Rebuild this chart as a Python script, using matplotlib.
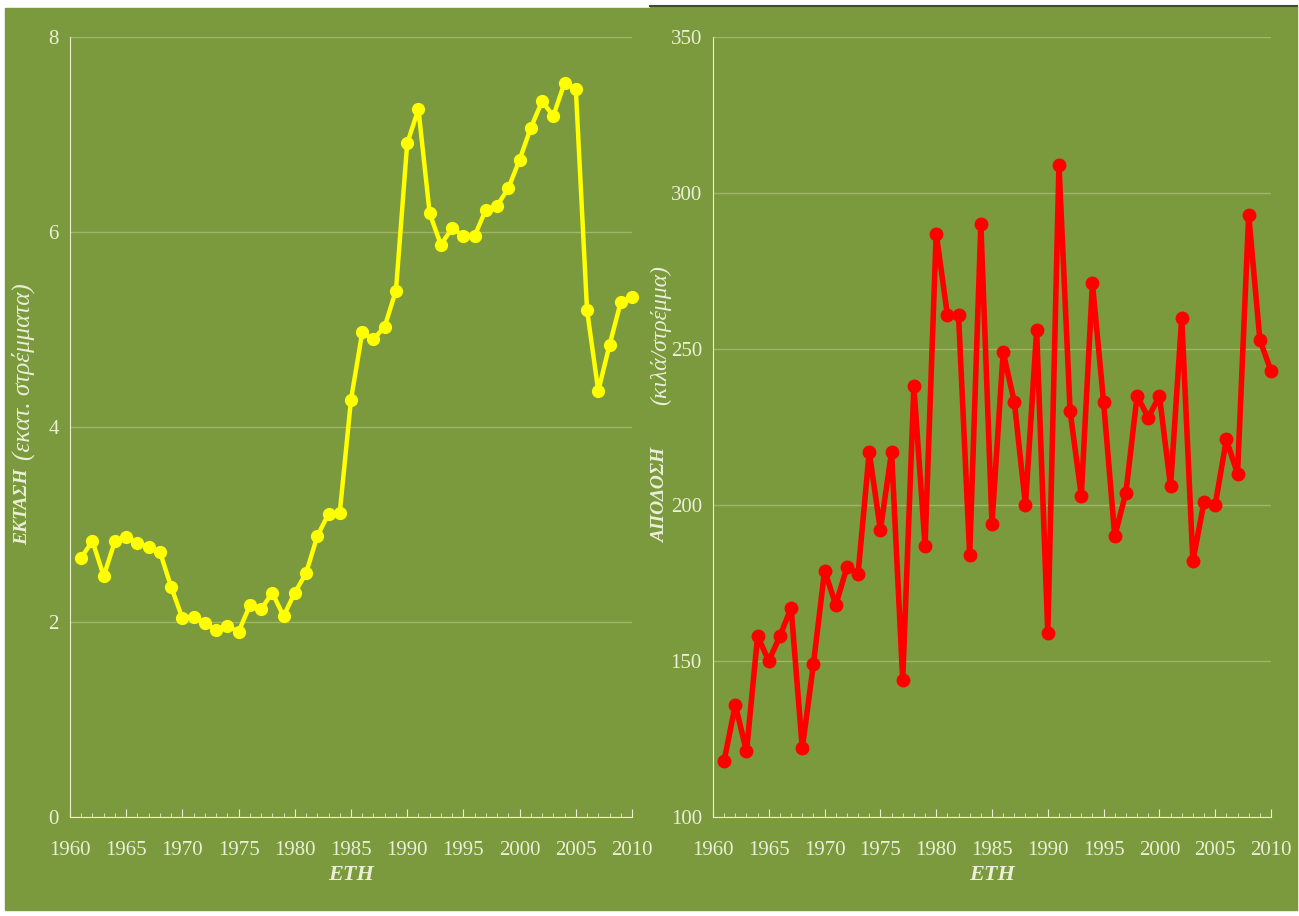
import matplotlib
matplotlib.use("Agg")
import matplotlib.pyplot as plt
from matplotlib.patches import Rectangle
from matplotlib.ticker import MultipleLocator

# data
years = list(range(1961, 2011))

ektasi = [2.66, 2.83, 2.47, 2.83, 2.87, 2.81, 2.77, 2.72, 2.36, 2.04,
          2.05, 1.99, 1.92, 1.96, 1.90, 2.17, 2.13, 2.30, 2.06, 2.30,
          2.50, 2.88, 3.11, 3.12, 4.28, 4.97, 4.90, 5.03, 5.40, 6.91,
          7.26, 6.19, 5.87, 6.04, 5.96, 5.96, 6.23, 6.27, 6.45, 6.74,
          7.07, 7.34, 7.19, 7.53, 7.47, 5.20, 4.37, 4.84, 5.28, 5.33]

apodosi = [118, 136, 121, 158, 150, 158, 167, 122, 149, 179,
           168, 180, 178, 217, 192, 217, 144, 238, 187, 287,
           261, 261, 184, 290, 194, 249, 233, 200, 256, 159,
           309, 230, 203, 271, 233, 190, 204, 235, 228, 235,
           206, 260, 182, 201, 200, 221, 210, 293, 253, 243]

x_ticks = [1960, 1965, 1970, 1975, 1980, 1985, 1990, 1995, 2000, 2005, 2010]
ylim_left = (0, 8)
ylim_right = (100, 350)

bg = "#7b9a3d"
grid_col = "#9fb56a"
txt_col = "#eceed8"
serif = ["Liberation Serif", "DejaVu Serif"]

W, H = 1299, 916
fig = plt.figure(figsize=(W / 100, H / 100), dpi=100)
fig.patch.set_facecolor("white")

# green panels behind each chart
fig.patches.append(Rectangle((5 / W, 6 / H), 645 / W, 902 / H,
                             transform=fig.transFigure, color=bg, zorder=-5))
fig.patches.append(Rectangle((650 / W, 6 / H), 647 / W, 904 / H,
                             transform=fig.transFigure, color=bg, zorder=-5))
fig.add_artist(plt.Line2D([650 / W, 1297 / W], [910 / H, 910 / H],
                          transform=fig.transFigure, color="#3d4f1c", lw=1.5,
                          zorder=-4))


def ylabel(x_px, y_px, main, y2_px, sub, sub_size):
    # bold word, then the unit in plain italic, reading bottom to top
    fig.text(x_px / W, 1 - y_px / H, main, rotation=90, rotation_mode="anchor",
             ha="left", va="center", fontsize=14, color=txt_col, family=serif,
             fontweight="bold", fontstyle="italic")
    fig.text(x_px / W, 1 - y2_px / H, sub, rotation=90, rotation_mode="anchor",
             ha="left", va="center", fontsize=sub_size, color=txt_col,
             family=serif, fontstyle="italic")


def setup(ax, ylim, ystep):
    ax.set_facecolor("none")
    ax.set_xlim(1960, 2010)
    ax.set_ylim(*ylim)
    ax.set_xticks(x_ticks)
    ax.xaxis.set_minor_locator(MultipleLocator(1))
    ax.yaxis.set_major_locator(MultipleLocator(ystep))
    ax.grid(axis="y", color=grid_col, lw=1)
    ax.set_axisbelow(True)
    for s in ["top", "right"]:
        ax.spines[s].set_visible(False)
    for s in ["left", "bottom"]:
        ax.spines[s].set_color(txt_col)
        ax.spines[s].set_linewidth(0.8)
    ax.tick_params(axis="x", which="major", direction="in", length=6,
                   color=txt_col, labelcolor=txt_col, labelsize=15, pad=17)
    ax.tick_params(axis="x", which="minor", direction="in", length=3,
                   color=txt_col)
    ax.tick_params(axis="y", length=0, labelcolor=txt_col, labelsize=15,
                   pad=8)
    for lab in ax.get_xticklabels() + ax.get_yticklabels():
        lab.set_family(serif)
    ax.set_xlabel("ΕΤΗ", fontsize=16, color=txt_col, family=serif,
                  fontweight="bold", fontstyle="italic", labelpad=4)


ax1 = fig.add_axes([70 / W, 99 / H, 562 / W, 780 / H])
ax1.plot(years, ektasi, color="#ffff00", lw=3.2, marker="o", ms=8.5,
         zorder=3, clip_on=False)
setup(ax1, ylim_left, 2)
ylabel(23, 545, "ΕΚΤΑΣΗ", 460, "(εκατ. στρέμματα)", 18)

ax2 = fig.add_axes([713 / W, 99 / H, 558 / W, 780 / H])
ax2.plot(years, apodosi, color="#ff0000", lw=4, marker="o", ms=9, zorder=3,
         clip_on=False)
setup(ax2, ylim_right, 50)
ylabel(661, 543, "ΑΠΟΔΟΣΗ", 405, "(κιλά/στρέμμα)", 17)

fig.savefig("out.png", dpi=100, facecolor=fig.get_facecolor())
